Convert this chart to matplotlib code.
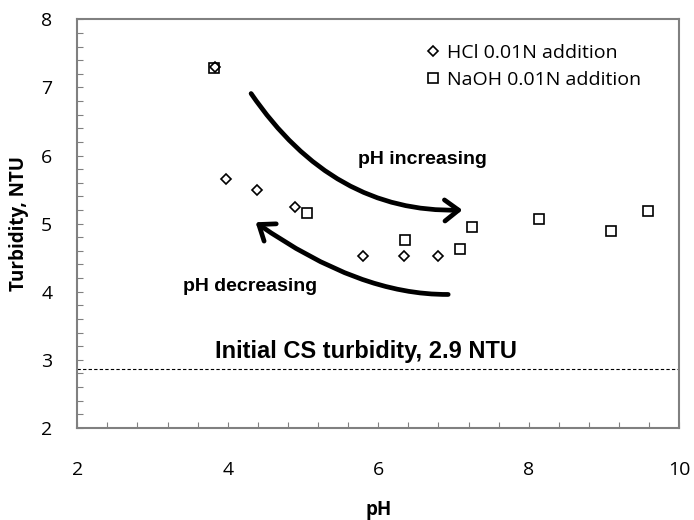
import numpy as np
import matplotlib
matplotlib.use("Agg")
import matplotlib.pyplot as plt
from matplotlib.patches import FancyArrowPatch
from matplotlib.path import Path
from matplotlib.ticker import MultipleLocator

# Data
hcl_ph = [3.83, 3.97, 4.39, 4.90, 5.80, 6.34, 6.80]
hcl_turb = [7.30, 5.66, 5.50, 5.24, 4.53, 4.52, 4.52]
naoh_ph = [3.82, 5.05, 6.35, 7.09, 7.25, 8.14, 9.09, 9.59]
naoh_turb = [7.29, 5.15, 4.76, 4.63, 4.95, 5.07, 4.89, 5.19]
initial_turb = 2.87

# Arrow paths (start, control, end) in data units
arrow_up = [(4.31, 6.91), (5.40, 5.15), (7.12, 5.20)]
arrow_down = [(6.93, 3.96), (5.75, 3.95), (4.37, 5.02)]

gray = "#808080"
fig = plt.figure(figsize=(6.94, 5.2), dpi=100)
ax = fig.add_axes([0.1114, 0.177, 0.8672, 0.7859])

ax.plot(naoh_ph, naoh_turb, "s", mfc="none", mec="black", mew=1.2, ms=6.5,
        label="NaOH 0.01N addition", zorder=3)
ax.plot(hcl_ph, hcl_turb, "D", mfc="none", mec="black", mew=1.2, ms=5,
        label="HCl 0.01N addition", zorder=4)

ax.axhline(initial_turb, color="black", lw=0.8, ls=(0, (3, 2)))
ax.text(3.83, 3.02, "Initial CS turbidity, 2.9 NTU", fontsize=17,
        fontweight="bold", family="Liberation Sans", va="baseline")

for pts in (arrow_up, arrow_down):
    p = Path(pts, [Path.MOVETO, Path.CURVE3, Path.CURVE3])
    arr = FancyArrowPatch(path=p, arrowstyle="->,head_length=0.5,head_width=0.38",
                          mutation_scale=20, lw=3.4, color="black",
                          transform=ax.transData)
    ax.add_patch(arr)

ax.text(5.73, 5.94, "pH increasing", fontsize=14, fontweight="bold",
        family="Liberation Sans", va="center")
ax.text(3.41, 4.08, "pH decreasing", fontsize=14, fontweight="bold",
        family="Liberation Sans", va="center")

ax.set_xlim(2, 10)
ax.set_ylim(2, 8)
ax.xaxis.set_major_locator(MultipleLocator(2))
ax.xaxis.set_minor_locator(MultipleLocator(0.4))
ax.yaxis.set_major_locator(MultipleLocator(1))
ax.yaxis.set_minor_locator(MultipleLocator(0.2))
ax.tick_params(which="both", direction="in", length=4, width=0.8, color=gray)
ax.tick_params(axis="x", which="major", labelsize=14, pad=24)
ax.tick_params(axis="y", which="major", labelsize=14, pad=18)
for lab in ax.get_xticklabels() + ax.get_yticklabels():
    lab.set_family("Open Sans")
for s in ax.spines.values():
    s.set_color(gray)
    s.set_linewidth(1.5)

ax.set_xlabel("pH", fontsize=13.5, fontweight="bold", family="Open Sans", labelpad=15)
ax.set_ylabel("Turbidity, NTU", fontsize=13.5, fontweight="bold", family="Open Sans", labelpad=9)

h, l = ax.get_legend_handles_labels()
ax.legend(h[::-1], l[::-1], loc="upper left", bbox_to_anchor=(0.549, 0.982),
          frameon=False, handlelength=0.8, handletextpad=0.3, labelspacing=0.45,
          prop={"family": "Open Sans", "size": 14})

fig.savefig("out.png", dpi=100)
